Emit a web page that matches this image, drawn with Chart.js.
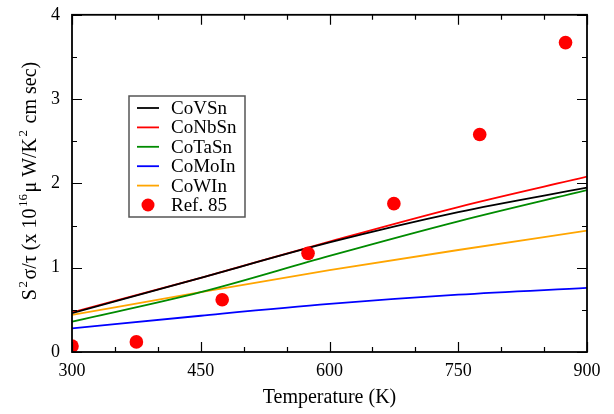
<!DOCTYPE html>
<html><head><meta charset="utf-8">
<script src="https://cdn.jsdelivr.net/npm/chart.js@4/dist/chart.umd.min.js"></script>
<style>html,body{margin:0;padding:0;background:#fff}#wrap{width:614px;height:414px;position:relative}</style>
</head><body><div id="wrap"><canvas id="c"></canvas></div>
<script>
// ---- data ----
const temps = [300, 450, 600, 750, 900];
const coVSn  = [0.46, 0.88, 1.30, 1.66, 1.95];
const coNbSn = [0.47, 0.88, 1.31, 1.72, 2.08];
const coTaSn = [0.36, 0.71, 1.14, 1.55, 1.92];
const coMoIn = [0.28, 0.43, 0.57, 0.68, 0.76];
const coWIn  = [0.44, 0.71, 0.97, 1.21, 1.44];
const refTemps  = [300, 375, 475, 575, 675, 775, 875];
const refValues = [0.07, 0.12, 0.62, 1.17, 1.76, 2.58, 3.67];
const xTicks = [300, 450, 600, 750, 900];
const yTicks = [0, 1, 2, 3, 4];

const FONT = '"Liberation Serif", "Times New Roman", serif';
const pts = (xs, ys) => xs.map((x, i) => ({x: x, y: ys[i]}));
const lineDs = (label, ys, color) => ({
  type: 'line', label, data: pts(temps, ys), borderColor: color, backgroundColor: color,
  borderWidth: 1.8, pointRadius: 0, cubicInterpolationMode: 'monotone', order: 1
});

const framePlugin = {
  id: 'frame',
  afterDatasetsDraw(chart) {
    const {ctx, chartArea: a, scales: {x, y}} = chart;
    ctx.save();
    ctx.strokeStyle = '#000';
    ctx.lineWidth = 1.8;
    ctx.strokeRect(a.left, a.top, a.right - a.left, a.bottom - a.top);
    ctx.lineWidth = 1.2;
    ctx.beginPath();
    for (let v = 300; v <= 900; v += 50) {
      const px = Math.round(x.getPixelForValue(v)) + 0.5;
      const len = (v % 150 === 0) ? 10 : 5;
      ctx.moveTo(px, a.bottom); ctx.lineTo(px, a.bottom - len);
      ctx.moveTo(px, a.top); ctx.lineTo(px, a.top + len);
    }
    for (let v = 0; v <= 4; v += 0.5) {
      const py = Math.round(y.getPixelForValue(v)) + 0.5;
      const len = (v % 1 === 0) ? 10 : 5;
      ctx.moveTo(a.left, py); ctx.lineTo(a.left + len, py);
      ctx.moveTo(a.right, py); ctx.lineTo(a.right - len, py);
    }
    ctx.stroke();

    // legend
    const bx = 129, by = 96, bw = 116, bh = 121;
    ctx.fillStyle = '#fff';
    ctx.fillRect(bx, by, bw, bh);
    ctx.strokeStyle = '#555';
    ctx.lineWidth = 1.5;
    ctx.strokeRect(bx, by, bw, bh);
    const order = [1, 2, 3, 4, 5, 0];
    ctx.font = '19px ' + FONT;
    ctx.textBaseline = 'middle';
    ctx.textAlign = 'left';
    order.forEach((di, i) => {
      const ds = chart.data.datasets[di];
      const cy = 108 + i * 19.4;
      if (ds.type === 'line') {
        ctx.strokeStyle = ds.borderColor; ctx.lineWidth = 1.8;
        ctx.beginPath(); ctx.moveTo(137, cy); ctx.lineTo(159, cy); ctx.stroke();
      } else {
        ctx.fillStyle = ds.backgroundColor;
        ctx.beginPath(); ctx.arc(148, cy, 6.5, 0, Math.PI * 2); ctx.fill();
      }
      ctx.fillStyle = '#000';
      ctx.fillText(ds.label, 171, cy + 1);
    });

    // y title with superscripts
    const segs = [['S', 0], ['2', 1], ['σ/τ (x 10', 0], ['16', 1], ['μ W/K', 0], ['2', 1], [' cm sec)', 0]];
    const big = '20px ' + FONT, small = '13px ' + FONT;
    let total = 0;
    segs.forEach(s => { ctx.font = s[1] ? small : big; total += ctx.measureText(s[0]).width + (s[1] ? 3 : 0); });
    ctx.translate(36, 181);
    ctx.rotate(-Math.PI / 2);
    ctx.fillStyle = '#000';
    ctx.textBaseline = 'alphabetic';
    let cx = -total / 2;
    segs.forEach(s => {
      ctx.font = s[1] ? small : big;
      ctx.fillText(s[0], cx + (s[1] ? 1.5 : 0), s[1] ? -9 : 0);
      cx += ctx.measureText(s[0]).width + (s[1] ? 3 : 0);
    });
    ctx.restore();
  }
};

new Chart(document.getElementById('c'), {
  data: {
    datasets: [
      {type: 'scatter', label: 'Ref. 85', data: pts(refTemps, refValues), backgroundColor: '#ff0000',
       borderColor: '#ff0000', pointRadius: 6.8, pointHoverRadius: 6.8, borderWidth: 0, order: 0},
      lineDs('CoVSn', coVSn, '#000000'),
      lineDs('CoNbSn', coNbSn, '#ff0000'),
      lineDs('CoTaSn', coTaSn, '#008b00'),
      lineDs('CoMoIn', coMoIn, '#0000ff'),
      lineDs('CoWIn', coWIn, '#ffa500')
    ]
  },
  options: {
    responsive: true, maintainAspectRatio: false, animation: false,
    layout: {padding: {top: 10, right: 27, left: 0, bottom: 0}},
    plugins: {legend: {display: false}, tooltip: {enabled: false}},
    scales: {
      x: {
        type: 'linear', min: 300, max: 900,
        afterBuildTicks: s => { s.ticks = xTicks.map(v => ({value: v})); },
        afterFit: s => { s.height = 62; },
        grid: {display: false}, border: {display: false},
        ticks: {color: '#000', font: {family: FONT, size: 18}, padding: 0, maxRotation: 0},
        title: {display: true, text: 'Temperature (K)', color: '#000', font: {family: FONT, size: 20}, padding: {top: 8}}
      },
      y: {
        type: 'linear', min: 0, max: 4,
        afterBuildTicks: s => { s.ticks = yTicks.map(v => ({value: v})); },
        afterFit: s => { s.width = 72; },
        grid: {display: false}, border: {display: false},
        ticks: {color: '#000', font: {family: FONT, size: 18}, padding: 4}
      }
    }
  },
  plugins: [framePlugin]
});
</script>
</body></html>
